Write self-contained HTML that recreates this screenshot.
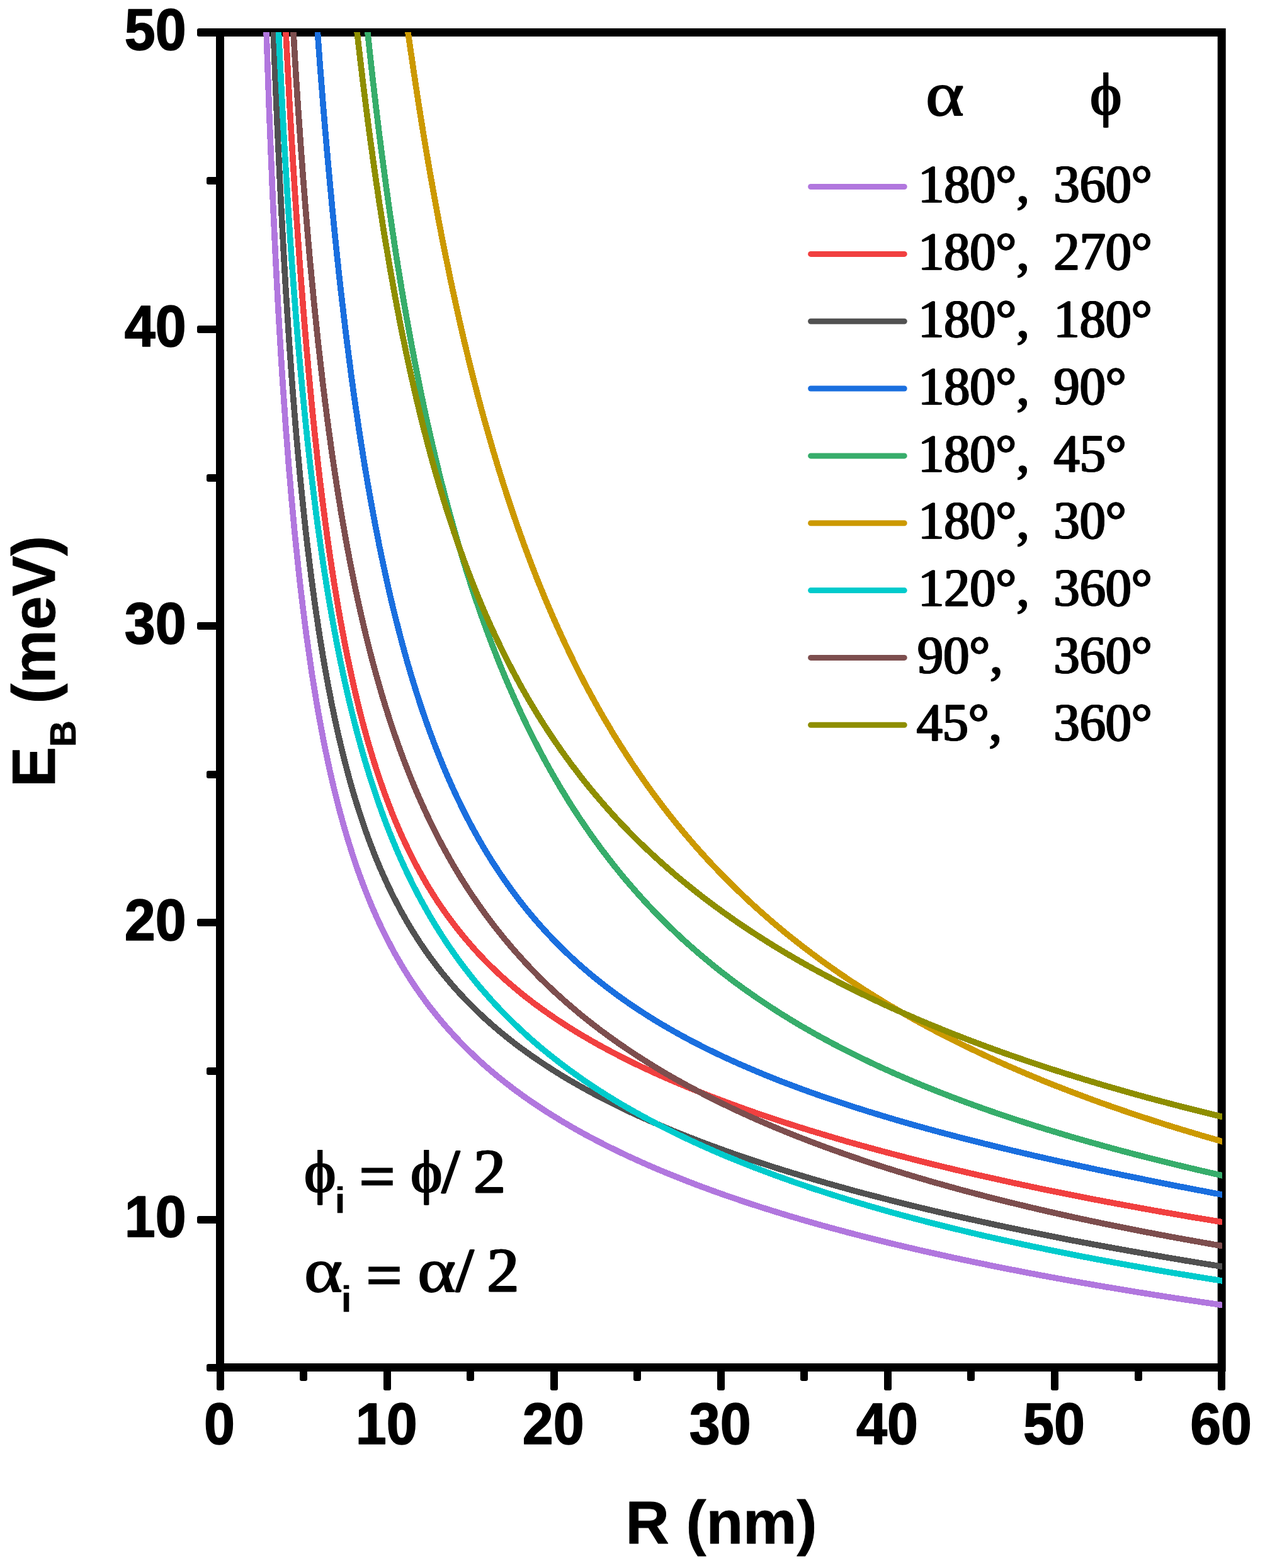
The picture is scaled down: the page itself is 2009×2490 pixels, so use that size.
<!DOCTYPE html>
<html lang="en"><head><meta charset="utf-8"><title>E_B vs R</title>
<style>
html,body{margin:0;padding:0;background:#fff;}
body{width:2009px;height:2490px;overflow:hidden;}
svg{display:block;}
text{fill:#000;stroke:#000;stroke-linejoin:round;}
.es{stroke-linejoin:miter;}
.tk{font-family:"Liberation Sans",Arial,Helvetica,sans-serif;font-weight:bold;font-size:92.2px;stroke-width:1.65px;}
.ti{font-family:"Liberation Sans",Arial,Helvetica,sans-serif;font-weight:bold;font-size:96px;stroke-width:0.8px;}
.sub{font-family:"Liberation Sans",Arial,Helvetica,sans-serif;font-weight:bold;font-size:58px;stroke-width:0.6px;}
.lg{font-family:"Liberation Serif","Times New Roman",Times,serif;font-weight:normal;font-size:84.2px;stroke-width:0.9px;}
.eq{font-family:"Liberation Serif","Times New Roman",Times,serif;font-weight:normal;font-size:98.5px;stroke-width:1.3px;}
.es{font-family:"Liberation Serif","Times New Roman",Times,serif;font-weight:normal;font-size:100px;stroke-width:3.0px;}
.al{font-family:"Liberation Serif","Times New Roman",Times,serif;font-weight:normal;font-size:98.5px;stroke-width:1.9px;}
.ph{font-family:"Liberation Serif","Times New Roman",Times,serif;font-weight:normal;font-size:94.3px;stroke-width:1.2px;}
.c{fill:none;stroke-width:9.6px;stroke-linejoin:round;stroke-linecap:butt;}
.l{fill:none;stroke-width:9px;stroke-linecap:round;}
.ax{fill:none;stroke:#000;stroke-width:13px;}
</style></head><body>
<svg width="2009" height="2490" viewBox="0 0 2009 2490">
<rect x="0" y="0" width="2009" height="2490" fill="#fff"/>
<defs><filter id="hb" x="-10%" y="-10%" width="120%" height="120%"><feOffset in="SourceGraphic" dx="1" dy="0" result="a"/><feOffset in="SourceGraphic" dx="-1" dy="0" result="b"/><feMerge><feMergeNode in="a"/><feMergeNode in="b"/><feMergeNode in="SourceGraphic"/></feMerge></filter></defs>
<defs><clipPath id="cp"><rect x="349.5" y="51" width="1591.5" height="2121"/></clipPath></defs>
<g id="axes">
<rect class="ax" x="349.5" y="51.5" width="1590.7" height="2120.0"/>
<rect x="313" y="45" width="37" height="13" rx="3.2"/>
<rect x="328" y="281" width="22" height="12" rx="3.2"/>
<rect x="313" y="517" width="37" height="12" rx="3.2"/>
<rect x="328" y="753" width="22" height="12" rx="3.2"/>
<rect x="313" y="988" width="37" height="12" rx="3.2"/>
<rect x="328" y="1224" width="22" height="12" rx="3.2"/>
<rect x="313" y="1459" width="37" height="12" rx="3.2"/>
<rect x="328" y="1695" width="22" height="12" rx="3.2"/>
<rect x="313" y="1931" width="37" height="12" rx="3.2"/>
<rect x="328" y="2166" width="22" height="12" rx="3.2"/>
<rect x="344" y="2170" width="12" height="38" rx="3.2"/>
<rect x="476" y="2170" width="12" height="23" rx="3.2"/>
<rect x="609" y="2170" width="12" height="38" rx="3.2"/>
<rect x="741" y="2170" width="12" height="23" rx="3.2"/>
<rect x="874" y="2170" width="12" height="38" rx="3.2"/>
<rect x="1006" y="2170" width="12" height="23" rx="3.2"/>
<rect x="1139" y="2170" width="12" height="38" rx="3.2"/>
<rect x="1271" y="2170" width="12" height="23" rx="3.2"/>
<rect x="1404" y="2170" width="12" height="38" rx="3.2"/>
<rect x="1536" y="2170" width="12" height="23" rx="3.2"/>
<rect x="1669" y="2170" width="12" height="38" rx="3.2"/>
<rect x="1802" y="2170" width="12" height="23" rx="3.2"/>
<rect x="1934" y="2170" width="12" height="38" rx="3.2"/>
</g>
<g id="curves" clip-path="url(#cp)" shape-rendering="crispEdges">
<path class="c" stroke="#B177DE" d="M417.9 -123.1 L419.3 -71.6 L420.8 -21.6 L422.3 27.0 L423.9 74.3 L425.5 120.3 L427.1 165.0 L428.8 208.5 L430.5 250.8 L432.2 291.9 L434.0 331.9 L435.8 370.9 L437.6 408.7 L439.5 445.6 L441.4 481.5 L443.4 516.4 L445.4 550.4 L447.4 583.5 L449.5 615.7 L451.7 647.0 L453.8 677.6 L456.1 707.3 L458.3 736.3 L460.7 764.5 L463.0 792.0 L465.5 818.8 L467.9 844.9 L470.5 870.3 L473.1 895.1 L475.7 919.3 L478.4 942.9 L481.2 965.9 L484.0 988.3 L486.8 1010.2 L489.8 1031.5 L492.8 1052.4 L495.8 1072.7 L499.0 1092.5 L502.2 1111.9 L505.4 1130.8 L508.8 1149.3 L512.2 1167.4 L515.6 1185.0 L519.2 1202.2 L522.8 1219.0 L526.5 1235.5 L530.3 1251.6 L534.2 1267.3 L538.1 1282.7 L542.2 1297.8 L546.3 1312.5 L550.5 1326.9 L554.8 1341.0 L559.2 1354.8 L563.6 1368.4 L568.2 1381.6 L572.9 1394.6 L577.7 1407.3 L582.6 1419.8 L587.5 1432.0 L592.6 1444.0 L597.8 1455.8 L603.1 1467.3 L608.6 1478.6 L614.1 1489.7 L619.8 1500.7 L625.5 1511.4 L631.4 1521.9 L637.5 1532.2 L643.6 1542.4 L649.9 1552.4 L656.3 1562.2 L662.9 1571.9 L669.6 1581.4 L676.4 1590.8 L683.4 1600.0 L690.6 1609.0 L697.9 1618.0 L705.3 1626.8 L712.9 1635.4 L720.7 1644.0 L728.6 1652.4 L736.7 1660.7 L745.0 1668.9 L753.5 1677.0 L762.1 1685.0 L770.9 1692.9 L780.0 1700.7 L789.2 1708.4 L798.6 1716.0 L808.2 1723.5 L818.0 1730.9 L828.0 1738.3 L838.2 1745.5 L848.7 1752.7 L859.4 1759.8 L870.3 1766.9 L881.4 1773.8 L892.8 1780.7 L904.4 1787.6 L916.3 1794.4 L928.4 1801.1 L940.8 1807.7 L953.4 1814.3 L966.3 1820.8 L979.5 1827.3 L993.0 1833.8 L1006.7 1840.1 L1020.8 1846.5 L1035.2 1852.8 L1049.8 1859.0 L1064.8 1865.2 L1080.1 1871.3 L1095.7 1877.4 L1111.7 1883.5 L1128.0 1889.5 L1144.6 1895.5 L1161.6 1901.4 L1179.0 1907.3 L1196.7 1913.2 L1214.9 1919.0 L1233.4 1924.8 L1252.3 1930.6 L1271.6 1936.3 L1291.3 1942.0 L1311.4 1947.6 L1332.0 1953.2 L1353.0 1958.8 L1374.5 1964.4 L1396.4 1969.9 L1418.8 1975.4 L1441.7 1980.8 L1465.0 1986.3 L1488.9 1991.6 L1513.3 1997.0 L1538.1 2002.3 L1563.6 2007.6 L1589.5 2012.9 L1616.1 2018.1 L1643.1 2023.3 L1670.8 2028.5 L1699.1 2033.6 L1727.9 2038.7 L1757.4 2043.8 L1787.5 2048.8 L1818.3 2053.8 L1849.7 2058.8 L1881.8 2063.7 L1914.6 2068.6 L1948.0 2073.5"/>
<path class="c" stroke="#F14040" d="M446.7 -104.7 L448.5 -63.3 L450.4 -22.6 L452.3 17.6 L454.3 57.1 L456.3 95.9 L458.3 134.1 L460.3 171.6 L462.4 208.5 L464.6 244.7 L466.8 280.2 L469.0 315.1 L471.3 349.3 L473.6 382.8 L475.9 415.6 L478.3 447.8 L480.8 479.4 L483.3 510.3 L485.8 540.5 L488.4 570.1 L491.0 599.1 L493.7 627.5 L496.4 655.2 L499.2 682.4 L502.1 708.9 L504.9 734.9 L507.9 760.3 L510.9 785.1 L514.0 809.4 L517.1 833.1 L520.3 856.3 L523.5 879.0 L526.8 901.1 L530.2 922.7 L533.6 943.9 L537.1 964.5 L540.6 984.7 L544.3 1004.4 L548.0 1023.7 L551.7 1042.5 L555.6 1060.8 L559.5 1078.8 L563.4 1096.3 L567.5 1113.5 L571.6 1130.2 L575.8 1146.5 L580.1 1162.5 L584.5 1178.1 L589.0 1193.4 L593.5 1208.3 L598.1 1222.8 L602.9 1237.1 L607.7 1251.0 L612.6 1264.6 L617.6 1277.9 L622.6 1290.9 L627.8 1303.6 L633.1 1316.0 L638.5 1328.2 L644.0 1340.0 L649.6 1351.7 L655.2 1363.1 L661.0 1374.2 L667.0 1385.1 L673.0 1395.8 L679.1 1406.3 L685.4 1416.5 L691.7 1426.6 L698.2 1436.4 L704.9 1446.1 L711.6 1455.5 L718.5 1464.8 L725.5 1473.9 L732.6 1482.8 L739.9 1491.6 L747.3 1500.2 L754.8 1508.7 L762.5 1517.0 L770.3 1525.2 L778.3 1533.2 L786.5 1541.1 L794.8 1548.9 L803.2 1556.5 L811.8 1564.0 L820.6 1571.5 L829.5 1578.8 L838.6 1586.0 L847.9 1593.1 L857.4 1600.1 L867.0 1607.0 L876.8 1613.8 L886.8 1620.5 L897.0 1627.2 L907.4 1633.8 L918.0 1640.3 L928.8 1646.7 L939.8 1653.1 L951.0 1659.4 L962.4 1665.6 L974.0 1671.8 L985.9 1677.9 L997.9 1684.0 L1010.2 1690.0 L1022.8 1696.0 L1035.5 1701.9 L1048.6 1707.8 L1061.8 1713.6 L1075.3 1719.4 L1089.1 1725.2 L1103.2 1730.9 L1117.5 1736.6 L1132.0 1742.3 L1146.9 1747.9 L1162.0 1753.5 L1177.4 1759.1 L1193.1 1764.7 L1209.1 1770.2 L1225.5 1775.7 L1242.1 1781.2 L1259.0 1786.6 L1276.3 1792.1 L1293.9 1797.5 L1311.8 1802.9 L1330.0 1808.3 L1348.6 1813.7 L1367.6 1819.0 L1386.9 1824.3 L1406.6 1829.6 L1426.7 1834.9 L1447.1 1840.2 L1467.9 1845.5 L1489.1 1850.7 L1510.8 1856.0 L1532.8 1861.2 L1555.3 1866.4 L1578.1 1871.5 L1601.5 1876.7 L1625.2 1881.8 L1649.4 1887.0 L1674.1 1892.1 L1699.2 1897.1 L1724.8 1902.2 L1750.9 1907.2 L1777.5 1912.2 L1804.6 1917.2 L1832.2 1922.2 L1860.4 1927.1 L1889.0 1932.1 L1918.3 1936.9 L1948.0 1941.8"/>
<path class="c" stroke="#515151" d="M428.5 -118.8 L430.1 -69.4 L431.7 -21.3 L433.4 25.5 L435.1 71.1 L436.8 115.4 L438.6 158.6 L440.4 200.6 L442.3 241.5 L444.2 281.3 L446.1 320.1 L448.1 357.8 L450.1 394.5 L452.1 430.3 L454.2 465.1 L456.4 499.0 L458.5 532.1 L460.8 564.2 L463.0 595.6 L465.3 626.1 L467.7 655.8 L470.1 684.8 L472.6 713.0 L475.1 740.5 L477.6 767.3 L480.3 793.5 L482.9 818.9 L485.6 843.8 L488.4 868.0 L491.3 891.6 L494.1 914.6 L497.1 937.1 L500.1 959.0 L503.2 980.3 L506.3 1001.2 L509.5 1021.5 L512.8 1041.4 L516.1 1060.7 L519.5 1079.6 L523.0 1098.1 L526.5 1116.1 L530.1 1133.7 L533.8 1150.9 L537.5 1167.7 L541.4 1184.1 L545.3 1200.2 L549.3 1215.8 L553.3 1231.2 L557.5 1246.1 L561.7 1260.8 L566.1 1275.1 L570.5 1289.1 L575.0 1302.8 L579.6 1316.2 L584.3 1329.4 L589.1 1342.2 L594.0 1354.8 L598.9 1367.1 L604.0 1379.2 L609.2 1391.0 L614.5 1402.6 L619.9 1414.0 L625.4 1425.1 L631.1 1436.0 L636.8 1446.8 L642.7 1457.3 L648.6 1467.6 L654.7 1477.7 L661.0 1487.6 L667.3 1497.4 L673.8 1507.0 L680.4 1516.4 L687.2 1525.7 L694.1 1534.8 L701.1 1543.7 L708.3 1552.5 L715.6 1561.2 L723.0 1569.7 L730.7 1578.1 L738.4 1586.4 L746.4 1594.6 L754.5 1602.6 L762.7 1610.5 L771.1 1618.3 L779.7 1626.0 L788.5 1633.6 L797.5 1641.1 L806.6 1648.5 L815.9 1655.8 L825.4 1663.0 L835.1 1670.1 L845.1 1677.2 L855.2 1684.1 L865.5 1691.0 L876.0 1697.8 L886.7 1704.6 L897.7 1711.3 L908.9 1717.9 L920.3 1724.4 L931.9 1730.9 L943.8 1737.3 L955.9 1743.7 L968.3 1750.0 L980.9 1756.3 L993.8 1762.5 L1006.9 1768.7 L1020.3 1774.8 L1034.0 1780.9 L1048.0 1786.9 L1062.2 1792.9 L1076.8 1798.9 L1091.6 1804.8 L1106.8 1810.7 L1122.2 1816.6 L1138.0 1822.4 L1154.0 1828.2 L1170.5 1834.0 L1187.2 1839.7 L1204.3 1845.4 L1221.7 1851.1 L1239.5 1856.8 L1257.7 1862.4 L1276.2 1868.0 L1295.1 1873.6 L1314.4 1879.2 L1334.1 1884.7 L1354.1 1890.3 L1374.6 1895.8 L1395.6 1901.2 L1416.9 1906.7 L1438.7 1912.2 L1460.9 1917.6 L1483.6 1923.0 L1506.7 1928.4 L1530.3 1933.8 L1554.4 1939.1 L1579.0 1944.5 L1604.0 1949.8 L1629.6 1955.1 L1655.7 1960.4 L1682.4 1965.7 L1709.6 1971.0 L1737.3 1976.2 L1765.6 1981.4 L1794.5 1986.6 L1824.0 1991.8 L1854.1 1997.0 L1884.8 2002.2 L1916.1 2007.3 L1948.0 2012.4"/>
<path class="c" stroke="#1A6FDF" d="M493.3 -114.8 L495.6 -77.6 L498.0 -41.0 L500.4 -5.0 L502.9 30.3 L505.4 65.1 L507.9 99.2 L510.5 132.8 L513.1 165.8 L515.8 198.2 L518.5 230.1 L521.3 261.4 L524.1 292.2 L526.9 322.4 L529.8 352.1 L532.7 381.3 L535.7 410.0 L538.7 438.2 L541.8 465.8 L545.0 493.0 L548.1 519.7 L551.4 546.0 L554.7 571.7 L558.0 597.0 L561.4 621.9 L564.9 646.3 L568.4 670.3 L571.9 693.8 L575.6 716.9 L579.2 739.6 L583.0 761.9 L586.8 783.8 L590.7 805.3 L594.6 826.4 L598.6 847.2 L602.6 867.5 L606.8 887.5 L611.0 907.1 L615.2 926.4 L619.5 945.3 L623.9 963.9 L628.4 982.1 L633.0 1000.0 L637.6 1017.6 L642.3 1034.9 L647.0 1051.8 L651.9 1068.5 L656.8 1084.8 L661.8 1100.8 L666.9 1116.6 L672.1 1132.1 L677.3 1147.2 L682.7 1162.1 L688.1 1176.8 L693.6 1191.1 L699.2 1205.2 L704.9 1219.1 L710.7 1232.7 L716.6 1246.0 L722.6 1259.2 L728.7 1272.0 L734.9 1284.7 L741.1 1297.1 L747.5 1309.3 L754.0 1321.3 L760.6 1333.0 L767.3 1344.6 L774.1 1355.9 L781.0 1367.1 L788.1 1378.0 L795.2 1388.8 L802.5 1399.3 L809.9 1409.7 L817.4 1419.9 L825.0 1429.9 L832.7 1439.8 L840.6 1449.5 L848.6 1459.0 L856.7 1468.3 L865.0 1477.5 L873.4 1486.5 L881.9 1495.4 L890.6 1504.1 L899.4 1512.7 L908.4 1521.2 L917.5 1529.5 L926.8 1537.7 L936.2 1545.7 L945.7 1553.6 L955.5 1561.4 L965.3 1569.0 L975.4 1576.6 L985.6 1584.0 L995.9 1591.3 L1006.5 1598.5 L1017.2 1605.6 L1028.1 1612.6 L1039.1 1619.5 L1050.4 1626.3 L1061.8 1633.0 L1073.4 1639.6 L1085.2 1646.1 L1097.2 1652.5 L1109.4 1658.8 L1121.8 1665.1 L1134.3 1671.2 L1147.1 1677.3 L1160.1 1683.3 L1173.3 1689.3 L1186.8 1695.1 L1200.4 1700.9 L1214.3 1706.7 L1228.4 1712.4 L1242.7 1718.0 L1257.3 1723.5 L1272.1 1729.0 L1287.1 1734.5 L1302.4 1739.9 L1317.9 1745.2 L1333.7 1750.5 L1349.7 1755.8 L1366.0 1761.0 L1382.6 1766.2 L1399.4 1771.3 L1416.5 1776.5 L1433.9 1781.5 L1451.6 1786.6 L1469.6 1791.6 L1487.8 1796.6 L1506.4 1801.5 L1525.2 1806.5 L1544.4 1811.4 L1563.9 1816.3 L1583.7 1821.2 L1603.8 1826.1 L1624.2 1830.9 L1645.0 1835.8 L1666.1 1840.6 L1687.6 1845.4 L1709.4 1850.2 L1731.6 1855.1 L1754.1 1859.9 L1777.0 1864.7 L1800.2 1869.5 L1823.9 1874.3 L1847.9 1879.2 L1872.3 1884.0 L1897.2 1888.8 L1922.4 1893.7 L1948.0 1898.5"/>
<path class="c" stroke="#37AD6B" d="M567.3 -122.1 L570.2 -89.1 L573.2 -56.8 L576.2 -25.1 L579.3 6.1 L582.4 36.6 L585.5 66.6 L588.7 96.0 L591.9 124.9 L595.2 153.3 L598.5 181.2 L601.8 208.7 L605.2 235.6 L608.7 262.1 L612.2 288.2 L615.7 313.8 L619.3 339.0 L622.9 363.8 L626.6 388.2 L630.3 412.2 L634.1 435.8 L637.9 459.1 L641.8 482.0 L645.8 504.5 L649.8 526.7 L653.8 548.6 L657.9 570.2 L662.0 591.4 L666.3 612.3 L670.5 633.0 L674.8 653.3 L679.2 673.3 L683.7 693.1 L688.2 712.5 L692.7 731.7 L697.3 750.6 L702.0 769.3 L706.8 787.7 L711.6 805.8 L716.5 823.7 L721.4 841.4 L726.4 858.8 L731.5 876.0 L736.6 892.9 L741.8 909.7 L747.1 926.2 L752.5 942.5 L757.9 958.5 L763.4 974.4 L769.0 990.0 L774.6 1005.4 L780.4 1020.7 L786.2 1035.7 L792.0 1050.6 L798.0 1065.2 L804.0 1079.7 L810.2 1093.9 L816.4 1108.0 L822.7 1121.9 L829.0 1135.6 L835.5 1149.2 L842.0 1162.5 L848.7 1175.7 L855.4 1188.7 L862.2 1201.6 L869.1 1214.3 L876.1 1226.8 L883.2 1239.2 L890.4 1251.4 L897.7 1263.4 L905.0 1275.3 L912.5 1287.0 L920.1 1298.6 L927.8 1310.0 L935.6 1321.3 L943.5 1332.5 L951.5 1343.5 L959.6 1354.3 L967.8 1365.0 L976.1 1375.6 L984.6 1386.1 L993.1 1396.4 L1001.8 1406.5 L1010.6 1416.6 L1019.5 1426.5 L1028.5 1436.3 L1037.6 1445.9 L1046.9 1455.5 L1056.3 1464.9 L1065.8 1474.1 L1075.5 1483.3 L1085.2 1492.4 L1095.2 1501.3 L1105.2 1510.1 L1115.4 1518.8 L1125.7 1527.4 L1136.1 1535.9 L1146.7 1544.3 L1157.5 1552.5 L1168.4 1560.7 L1179.4 1568.8 L1190.6 1576.7 L1201.9 1584.6 L1213.4 1592.3 L1225.0 1600.0 L1236.8 1607.6 L1248.7 1615.0 L1260.9 1622.4 L1273.1 1629.7 L1285.6 1636.9 L1298.2 1644.0 L1311.0 1651.0 L1323.9 1657.9 L1337.0 1664.8 L1350.3 1671.5 L1363.8 1678.2 L1377.5 1684.8 L1391.3 1691.4 L1405.3 1697.8 L1419.6 1704.2 L1434.0 1710.5 L1448.6 1716.7 L1463.4 1722.9 L1478.4 1729.0 L1493.6 1735.0 L1509.0 1741.0 L1524.6 1746.9 L1540.4 1752.7 L1556.5 1758.5 L1572.7 1764.2 L1589.2 1769.9 L1605.9 1775.5 L1622.8 1781.0 L1640.0 1786.5 L1657.4 1792.0 L1675.0 1797.3 L1692.8 1802.7 L1710.9 1808.0 L1729.3 1813.2 L1747.9 1818.4 L1766.7 1823.6 L1785.8 1828.7 L1805.1 1833.8 L1824.7 1838.8 L1844.6 1843.8 L1864.7 1848.8 L1885.1 1853.7 L1905.8 1858.6 L1926.8 1863.5 L1948.0 1868.3"/>
<path class="c" stroke="#CC9900" d="M627.2 -107.9 L630.5 -81.2 L633.8 -54.9 L637.2 -28.9 L640.6 -3.1 L644.0 22.3 L647.5 47.5 L651.0 72.4 L654.6 96.9 L658.2 121.3 L661.8 145.3 L665.5 169.1 L669.2 192.5 L673.0 215.8 L676.8 238.7 L680.7 261.4 L684.6 283.8 L688.6 306.0 L692.6 327.9 L696.6 349.6 L700.7 371.0 L704.9 392.1 L709.1 413.0 L713.3 433.7 L717.6 454.1 L722.0 474.3 L726.4 494.3 L730.8 514.0 L735.3 533.5 L739.9 552.8 L744.5 571.8 L749.2 590.6 L753.9 609.2 L758.7 627.6 L763.5 645.8 L768.4 663.8 L773.4 681.5 L778.4 699.1 L783.4 716.4 L788.6 733.5 L793.7 750.5 L799.0 767.2 L804.3 783.8 L809.7 800.1 L815.1 816.3 L820.6 832.3 L826.2 848.1 L831.8 863.7 L837.5 879.1 L843.3 894.4 L849.1 909.5 L855.0 924.4 L861.0 939.1 L867.0 953.7 L873.2 968.1 L879.3 982.3 L885.6 996.4 L891.9 1010.3 L898.3 1024.0 L904.8 1037.6 L911.4 1051.1 L918.0 1064.4 L924.7 1077.5 L931.5 1090.5 L938.4 1103.3 L945.4 1116.0 L952.4 1128.6 L959.5 1141.0 L966.8 1153.2 L974.0 1165.4 L981.4 1177.4 L988.9 1189.2 L996.5 1201.0 L1004.1 1212.6 L1011.8 1224.0 L1019.7 1235.4 L1027.6 1246.6 L1035.6 1257.7 L1043.7 1268.7 L1051.9 1279.5 L1060.2 1290.3 L1068.6 1300.9 L1077.1 1311.4 L1085.7 1321.8 L1094.4 1332.0 L1103.2 1342.2 L1112.1 1352.2 L1121.1 1362.2 L1130.2 1372.0 L1139.5 1381.7 L1148.8 1391.4 L1158.2 1400.9 L1167.8 1410.3 L1177.5 1419.6 L1187.2 1428.8 L1197.1 1438.0 L1207.2 1447.0 L1217.3 1455.9 L1227.5 1464.8 L1237.9 1473.5 L1248.4 1482.2 L1259.0 1490.7 L1269.8 1499.2 L1280.7 1507.6 L1291.7 1515.9 L1302.8 1524.1 L1314.1 1532.2 L1325.5 1540.2 L1337.0 1548.2 L1348.7 1556.1 L1360.5 1563.9 L1372.4 1571.6 L1384.5 1579.2 L1396.7 1586.8 L1409.1 1594.3 L1421.6 1601.7 L1434.3 1609.0 L1447.1 1616.3 L1460.1 1623.5 L1473.2 1630.6 L1486.5 1637.7 L1499.9 1644.6 L1513.5 1651.5 L1527.3 1658.4 L1541.2 1665.1 L1555.3 1671.8 L1569.5 1678.5 L1584.0 1685.1 L1598.5 1691.6 L1613.3 1698.0 L1628.2 1704.4 L1643.3 1710.7 L1658.6 1717.0 L1674.1 1723.2 L1689.8 1729.3 L1705.6 1735.4 L1721.6 1741.4 L1737.8 1747.4 L1754.2 1753.3 L1770.8 1759.1 L1787.6 1764.9 L1804.6 1770.7 L1821.8 1776.3 L1839.2 1782.0 L1856.8 1787.6 L1874.7 1793.1 L1892.7 1798.5 L1910.9 1804.0 L1929.4 1809.3 L1948.0 1814.7"/>
<path class="c" stroke="#00CBCC" d="M435.9 -103.2 L437.6 -60.9 L439.4 -19.5 L441.1 21.0 L442.9 60.5 L444.8 99.2 L446.7 137.1 L448.6 174.1 L450.5 210.3 L452.5 245.7 L454.6 280.3 L456.7 314.2 L458.8 347.3 L460.9 379.8 L463.1 411.5 L465.4 442.5 L467.7 472.9 L470.0 502.6 L472.4 531.7 L474.8 560.2 L477.3 588.0 L479.8 615.3 L482.4 642.0 L485.0 668.2 L487.7 693.8 L490.4 718.9 L493.2 743.4 L496.1 767.5 L499.0 791.0 L501.9 814.1 L504.9 836.8 L508.0 858.9 L511.1 880.6 L514.3 901.9 L517.6 922.8 L520.9 943.3 L524.3 963.3 L527.8 983.0 L531.3 1002.3 L534.9 1021.2 L538.5 1039.7 L542.3 1057.9 L546.1 1075.8 L550.0 1093.3 L553.9 1110.5 L558.0 1127.4 L562.1 1143.9 L566.3 1160.2 L570.6 1176.2 L575.0 1191.9 L579.4 1207.3 L584.0 1222.4 L588.6 1237.3 L593.4 1251.9 L598.2 1266.2 L603.1 1280.3 L608.1 1294.2 L613.2 1307.8 L618.4 1321.2 L623.8 1334.4 L629.2 1347.4 L634.7 1360.1 L640.3 1372.7 L646.1 1385.0 L652.0 1397.2 L657.9 1409.1 L664.0 1420.9 L670.3 1432.5 L676.6 1443.9 L683.1 1455.2 L689.7 1466.3 L696.4 1477.2 L703.3 1488.0 L710.3 1498.6 L717.4 1509.0 L724.7 1519.3 L732.1 1529.5 L739.7 1539.5 L747.4 1549.4 L755.2 1559.1 L763.3 1568.8 L771.5 1578.2 L779.8 1587.6 L788.3 1596.9 L797.0 1606.0 L805.8 1615.0 L814.9 1623.9 L824.1 1632.7 L833.5 1641.4 L843.0 1650.0 L852.8 1658.5 L862.7 1666.8 L872.9 1675.1 L883.3 1683.3 L893.8 1691.4 L904.6 1699.4 L915.6 1707.3 L926.7 1715.2 L938.2 1722.9 L949.8 1730.6 L961.7 1738.2 L973.8 1745.7 L986.1 1753.1 L998.7 1760.4 L1011.6 1767.7 L1024.7 1774.9 L1038.0 1782.0 L1051.6 1789.1 L1065.5 1796.1 L1079.7 1803.0 L1094.1 1809.9 L1108.9 1816.7 L1123.9 1823.4 L1139.2 1830.1 L1154.8 1836.7 L1170.8 1843.2 L1187.0 1849.7 L1203.6 1856.1 L1220.5 1862.5 L1237.7 1868.8 L1255.3 1875.1 L1273.2 1881.3 L1291.5 1887.5 L1310.1 1893.5 L1329.1 1899.6 L1348.5 1905.6 L1368.2 1911.5 L1388.4 1917.4 L1408.9 1923.3 L1429.9 1929.1 L1451.3 1934.8 L1473.0 1940.5 L1495.3 1946.1 L1517.9 1951.7 L1541.1 1957.3 L1564.6 1962.8 L1588.7 1968.2 L1613.2 1973.6 L1638.2 1979.0 L1663.7 1984.3 L1689.7 1989.6 L1716.2 1994.8 L1743.2 2000.0 L1770.8 2005.1 L1798.9 2010.2 L1827.6 2015.3 L1856.8 2020.3 L1886.6 2025.2 L1917.0 2030.2 L1948.0 2035.0"/>
<path class="c" stroke="#7D4E4E" d="M457.7 -102.3 L459.6 -63.5 L461.6 -25.5 L463.7 11.6 L465.8 48.0 L467.9 83.7 L470.0 118.6 L472.2 152.8 L474.5 186.2 L476.8 219.0 L479.1 251.2 L481.4 282.6 L483.9 313.4 L486.3 343.7 L488.8 373.2 L491.3 402.3 L493.9 430.7 L496.6 458.5 L499.2 485.8 L502.0 512.6 L504.7 538.9 L507.6 564.6 L510.5 589.8 L513.4 614.6 L516.4 638.9 L519.4 662.7 L522.5 686.0 L525.7 708.9 L528.9 731.4 L532.2 753.5 L535.5 775.1 L538.9 796.4 L542.3 817.2 L545.9 837.7 L549.4 857.8 L553.1 877.6 L556.8 896.9 L560.6 916.0 L564.4 934.7 L568.3 953.1 L572.3 971.1 L576.4 988.8 L580.5 1006.3 L584.7 1023.4 L589.0 1040.2 L593.4 1056.8 L597.9 1073.1 L602.4 1089.1 L607.0 1104.8 L611.7 1120.3 L616.5 1135.5 L621.3 1150.5 L626.3 1165.2 L631.4 1179.7 L636.5 1194.0 L641.7 1208.0 L647.1 1221.9 L652.5 1235.5 L658.0 1248.9 L663.6 1262.1 L669.4 1275.1 L675.2 1287.9 L681.1 1300.5 L687.2 1313.0 L693.3 1325.2 L699.6 1337.3 L706.0 1349.2 L712.5 1360.9 L719.1 1372.5 L725.9 1383.9 L732.7 1395.2 L739.7 1406.3 L746.8 1417.2 L754.1 1428.0 L761.5 1438.7 L769.0 1449.2 L776.6 1459.6 L784.4 1469.8 L792.4 1479.9 L800.4 1489.9 L808.7 1499.8 L817.0 1509.5 L825.6 1519.1 L834.3 1528.7 L843.1 1538.0 L852.1 1547.3 L861.3 1556.5 L870.6 1565.5 L880.1 1574.5 L889.8 1583.3 L899.7 1592.1 L909.7 1600.7 L919.9 1609.3 L930.3 1617.8 L940.9 1626.1 L951.7 1634.4 L962.7 1642.6 L973.9 1650.7 L985.3 1658.7 L996.9 1666.6 L1008.7 1674.5 L1020.7 1682.2 L1032.9 1689.9 L1045.4 1697.5 L1058.1 1705.1 L1071.0 1712.5 L1084.2 1719.9 L1097.6 1727.2 L1111.2 1734.4 L1125.1 1741.6 L1139.3 1748.7 L1153.7 1755.7 L1168.4 1762.7 L1183.3 1769.6 L1198.5 1776.4 L1214.0 1783.2 L1229.8 1789.9 L1245.8 1796.5 L1262.2 1803.1 L1278.8 1809.6 L1295.8 1816.1 L1313.0 1822.5 L1330.6 1828.8 L1348.5 1835.1 L1366.7 1841.3 L1385.3 1847.5 L1404.2 1853.6 L1423.4 1859.6 L1443.0 1865.6 L1463.0 1871.6 L1483.3 1877.5 L1504.0 1883.3 L1525.0 1889.1 L1546.5 1894.8 L1568.3 1900.5 L1590.6 1906.2 L1613.2 1911.7 L1636.3 1917.3 L1659.7 1922.7 L1683.6 1928.2 L1708.0 1933.6 L1732.8 1938.9 L1758.0 1944.2 L1783.7 1949.4 L1809.9 1954.6 L1836.5 1959.7 L1863.6 1964.8 L1891.3 1969.8 L1919.4 1974.8 L1948.0 1979.8"/>
<path class="c" stroke="#8E8E00" d="M551.8 -97.3 L554.6 -68.4 L557.5 -39.8 L560.4 -11.7 L563.3 16.1 L566.3 43.4 L569.3 70.4 L572.4 97.0 L575.5 123.2 L578.7 149.0 L581.9 174.4 L585.1 199.5 L588.4 224.2 L591.8 248.5 L595.1 272.5 L598.6 296.1 L602.0 319.4 L605.6 342.3 L609.1 364.9 L612.8 387.1 L616.5 409.0 L620.2 430.6 L624.0 451.9 L627.8 472.8 L631.7 493.4 L635.6 513.8 L639.6 533.8 L643.7 553.5 L647.8 572.9 L652.0 592.1 L656.2 610.9 L660.5 629.5 L664.8 647.8 L669.2 665.8 L673.7 683.6 L678.2 701.1 L682.8 718.3 L687.4 735.3 L692.2 752.0 L697.0 768.5 L701.8 784.8 L706.7 800.8 L711.7 816.6 L716.8 832.1 L721.9 847.5 L727.1 862.6 L732.4 877.5 L737.7 892.2 L743.2 906.7 L748.7 921.0 L754.2 935.1 L759.9 949.0 L765.6 962.7 L771.4 976.2 L777.3 989.5 L783.3 1002.7 L789.4 1015.6 L795.5 1028.4 L801.7 1041.1 L808.1 1053.5 L814.5 1065.8 L821.0 1078.0 L827.6 1090.0 L834.2 1101.8 L841.0 1113.5 L847.9 1125.0 L854.8 1136.4 L861.9 1147.7 L869.1 1158.8 L876.3 1169.8 L883.7 1180.6 L891.1 1191.3 L898.7 1201.9 L906.4 1212.4 L914.2 1222.7 L922.0 1233.0 L930.0 1243.1 L938.2 1253.1 L946.4 1262.9 L954.7 1272.7 L963.2 1282.4 L971.7 1291.9 L980.4 1301.4 L989.3 1310.8 L998.2 1320.0 L1007.3 1329.2 L1016.4 1338.3 L1025.8 1347.2 L1035.2 1356.1 L1044.8 1364.9 L1054.5 1373.6 L1064.4 1382.3 L1074.3 1390.8 L1084.5 1399.3 L1094.7 1407.6 L1105.1 1415.9 L1115.7 1424.2 L1126.4 1432.3 L1137.3 1440.4 L1148.3 1448.4 L1159.4 1456.3 L1170.7 1464.2 L1182.2 1472.0 L1193.9 1479.7 L1205.7 1487.4 L1217.6 1494.9 L1229.7 1502.5 L1242.0 1509.9 L1254.5 1517.3 L1267.2 1524.7 L1280.0 1532.0 L1293.0 1539.2 L1306.2 1546.3 L1319.5 1553.4 L1333.1 1560.5 L1346.8 1567.5 L1360.8 1574.4 L1374.9 1581.3 L1389.2 1588.1 L1403.7 1594.9 L1418.5 1601.6 L1433.4 1608.3 L1448.6 1614.9 L1463.9 1621.5 L1479.5 1628.0 L1495.3 1634.4 L1511.3 1640.9 L1527.5 1647.2 L1544.0 1653.5 L1560.7 1659.8 L1577.6 1666.0 L1594.7 1672.2 L1612.1 1678.3 L1629.8 1684.4 L1647.7 1690.4 L1665.8 1696.4 L1684.2 1702.3 L1702.8 1708.2 L1721.8 1714.0 L1740.9 1719.8 L1760.4 1725.6 L1780.1 1731.2 L1800.1 1736.9 L1820.3 1742.5 L1840.9 1748.0 L1861.7 1753.5 L1882.9 1759.0 L1904.3 1764.4 L1926.0 1769.8 L1948.0 1775.1"/>
</g>
<g id="ylabels" class="tk" text-anchor="end">
<text transform="translate(295.7 79.1) scale(0.955 1)">50</text>
<text transform="translate(295.7 550.3) scale(0.955 1)">40</text>
<text transform="translate(295.7 1021.5) scale(0.955 1)">30</text>
<text transform="translate(295.7 1492.7) scale(0.955 1)">20</text>
<text transform="translate(295.7 1963.9) scale(0.955 1)">10</text>
</g>
<g id="xlabels" class="tk" text-anchor="middle">
<text transform="translate(348.6 2293.3) scale(0.955 1)">0</text>
<text transform="translate(613.7 2293.3) scale(0.955 1)">10</text>
<text transform="translate(878.8 2293.3) scale(0.955 1)">20</text>
<text transform="translate(1143.8 2293.3) scale(0.955 1)">30</text>
<text transform="translate(1408.9 2293.3) scale(0.955 1)">40</text>
<text transform="translate(1674.0 2293.3) scale(0.955 1)">50</text>
<text transform="translate(1939.1 2293.3) scale(0.955 1)">60</text>
</g>
<text class="ti" x="993.5" y="2450.5" id="xt" xml:space="preserve">R (nm)</text>
<text class="ti" id="yt" transform="translate(87.4 1250) rotate(-90)" xml:space="preserve"><tspan>E</tspan><tspan class="sub" dy="33">B</tspan><tspan dy="-33"> (meV)</tspan></text>
<g id="legend-lines">
<path class="l" stroke="#B177DE" d="M1287.6 296.5 H1436.2"/>
<path class="l" stroke="#F14040" d="M1287.6 403.4 H1436.2"/>
<path class="l" stroke="#515151" d="M1287.6 510.2 H1436.2"/>
<path class="l" stroke="#1A6FDF" d="M1287.6 617.0 H1436.2"/>
<path class="l" stroke="#37AD6B" d="M1287.6 723.9 H1436.2"/>
<path class="l" stroke="#CC9900" d="M1287.6 830.8 H1436.2"/>
<path class="l" stroke="#00CBCC" d="M1287.6 937.6 H1436.2"/>
<path class="l" stroke="#7D4E4E" d="M1287.6 1044.4 H1436.2"/>
<path class="l" stroke="#8E8E00" d="M1287.6 1151.3 H1436.2"/>
</g>
<g id="labels">
<text class="al" transform="translate(1470.1 182.8) scale(1.18 1)">α</text>
<text class="ph" x="1731.5" y="181.5" filter="url(#hb)">ϕ</text>
<text class="lg" transform="translate(1458.2 321.1) scale(0.975 1)" filter="url(#hb)">180°, </text>
<text class="lg" transform="translate(1673.6 321.1) scale(0.975 1)" filter="url(#hb)">360°</text>
<text class="lg" transform="translate(1458.2 428.0) scale(0.975 1)" filter="url(#hb)">180°, </text>
<text class="lg" transform="translate(1673.6 428.0) scale(0.975 1)" filter="url(#hb)">270°</text>
<text class="lg" transform="translate(1458.2 534.8) scale(0.975 1)" filter="url(#hb)">180°, </text>
<text class="lg" transform="translate(1673.6 534.8) scale(0.975 1)" filter="url(#hb)">180°</text>
<text class="lg" transform="translate(1458.2 641.6) scale(0.975 1)" filter="url(#hb)">180°, </text>
<text class="lg" transform="translate(1673.6 641.6) scale(0.975 1)" filter="url(#hb)">90°</text>
<text class="lg" transform="translate(1458.2 748.5) scale(0.975 1)" filter="url(#hb)">180°, </text>
<text class="lg" transform="translate(1673.6 748.5) scale(0.975 1)" filter="url(#hb)">45°</text>
<text class="lg" transform="translate(1458.2 855.4) scale(0.975 1)" filter="url(#hb)">180°, </text>
<text class="lg" transform="translate(1673.6 855.4) scale(0.975 1)" filter="url(#hb)">30°</text>
<text class="lg" transform="translate(1458.2 962.2) scale(0.975 1)" filter="url(#hb)">120°, </text>
<text class="lg" transform="translate(1673.6 962.2) scale(0.975 1)" filter="url(#hb)">360°</text>
<text class="lg" transform="translate(1457.1 1069.0) scale(0.975 1)" filter="url(#hb)">90°, </text>
<text class="lg" transform="translate(1673.6 1069.0) scale(0.975 1)" filter="url(#hb)">360°</text>
<text class="lg" transform="translate(1455.7 1175.9) scale(0.975 1)" filter="url(#hb)">45°, </text>
<text class="lg" transform="translate(1673.6 1175.9) scale(0.975 1)" filter="url(#hb)">360°</text>
<text class="ph" x="483.6" y="1892.7" filter="url(#hb)">ϕ</text>
<text class="sub" x="531.9" y="1925.7">i</text>
<text class="es" x="570.7" y="1901.6"> = </text>
<text class="ph" x="652.6" y="1892.7" filter="url(#hb)">ϕ</text>
<text class="eq" transform="translate(701.8 1893.4) scale(1.03 1)" filter="url(#hb)">/ </text>
<text class="eq" transform="translate(752.2 1893.4) scale(1.03 1)" filter="url(#hb)">2</text>
<text class="al" transform="translate(483.0 2050.5) scale(1.18 1)">α</text>
<text class="sub" x="542.1" y="2082.6">i</text>
<text class="es" x="581.7" y="2058.5"> = </text>
<text class="al" transform="translate(663.0 2050.5) scale(1.18 1)">α</text>
<text class="eq" transform="translate(724.0 2050.3) scale(1.03 1)" filter="url(#hb)">/ </text>
<text class="eq" transform="translate(773.5 2050.3) scale(1.03 1)" filter="url(#hb)">2</text>
</g>
</svg>
</body></html>
